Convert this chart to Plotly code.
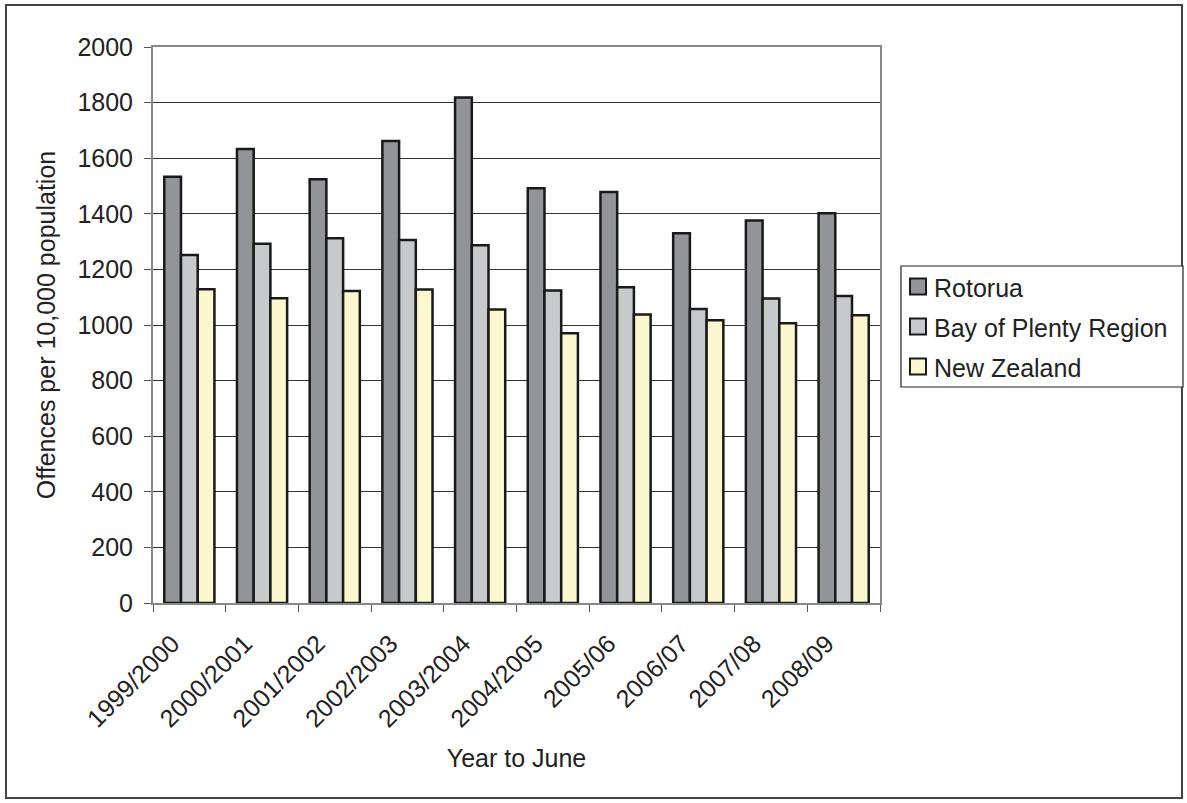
import plotly.graph_objects as go

categories = ["1999/2000", "2000/2001", "2001/2002", "2002/2003", "2003/2004",
              "2004/2005", "2005/06", "2006/07", "2007/08", "2008/09"]
rotorua = [1533, 1633, 1524, 1662, 1818, 1492, 1478, 1330, 1376, 1402]
bop = [1252, 1292, 1312, 1306, 1287, 1124, 1136, 1058, 1095, 1104]
nz = [1129, 1096, 1122, 1128, 1056, 970, 1038, 1017, 1006, 1035]

series_names = ["Rotorua", "Bay of Plenty Region", "New Zealand"]
series_values = [rotorua, bop, nz]
series_colors = ["#939498", "#c8c9cb", "#fbf8d0"]

FONT = "Liberation Sans, Arial, sans-serif"
OUTLINE = "#1a1a1a"
fig = go.Figure()
for name, vals, col in zip(series_names, series_values, series_colors):
    fig.add_trace(go.Bar(x=categories, y=vals, name=name, showlegend=False,
                         marker=dict(color=col, line=dict(color=OUTLINE, width=2.5))))

W, H = 1187, 803
L, R, T, B = 153, 307, 47, 200
pw, ph = W - L - R, H - T - B

def px(x):
    return (x - L) / pw

def py(y):
    return (H - B - y) / ph

# outer chart border
shapes = [dict(type="rect", xref="paper", yref="paper",
               x0=px(6), x1=px(1182), y0=py(798), y1=py(5),
               line=dict(color="#444", width=2), layer="below")]
annotations = []

# legend (box, swatches, labels)
LEG_X0, LEG_X1, LEG_Y0, LEG_Y1 = 901, 1183, 266, 387
ROW0, ROW_STEP = 286.5, 40
shapes.append(dict(type="rect", xref="paper", yref="paper",
                   x0=px(LEG_X0), x1=px(LEG_X1), y0=py(LEG_Y1), y1=py(LEG_Y0),
                   line=dict(color="#222", width=1.2), fillcolor="white"))
for i, (name, col) in enumerate(zip(series_names, series_colors)):
    cy = ROW0 + i * ROW_STEP
    shapes.append(dict(type="rect", xref="paper", yref="paper",
                       x0=px(910), x1=px(926), y0=py(cy + 8), y1=py(cy - 8),
                       fillcolor=col, line=dict(color=OUTLINE, width=2)))
    annotations.append(dict(text=name, xref="paper", yref="paper",
                            x=px(932), y=py(cy + 1), xanchor="left", yanchor="middle",
                            showarrow=False,
                            font=dict(family=FONT, size=25, color="#222")))

fig.update_layout(
    width=W, height=H,
    margin=dict(l=L, r=R, t=T, b=B, autoexpand=False),
    paper_bgcolor="white", plot_bgcolor="white",
    font=dict(family=FONT, size=25, color="#222"),
    barmode="group", bargap=0.31, bargroupgap=0,
    xaxis=dict(title=dict(text="Year to June", font=dict(size=25), standoff=18),
               tickangle=-45, ticks="outside", tickson="boundaries", ticklen=7,
               ticklabelstandoff=14, ticklabelshift=-17,
               tickcolor="#555", showline=True, linecolor="#888", linewidth=2,
               mirror=True, showgrid=False, tickfont=dict(size=25)),
    yaxis=dict(title=dict(text="Offences per 10,000 population", font=dict(size=25),
                          standoff=15),
               range=[0, 2000], dtick=200, ticks="outside", ticklen=7,
               ticklabelstandoff=6,
               tickcolor="#555", showline=True, linecolor="#888", linewidth=2,
               mirror=True, showgrid=True, gridcolor="#333", gridwidth=1,
               tickfont=dict(size=25), zeroline=False),
    shapes=shapes,
    annotations=annotations,
)
fig.write_html("out.html", config={"displayModeBar": False},
               post_script="document.body.style.margin='0';")
